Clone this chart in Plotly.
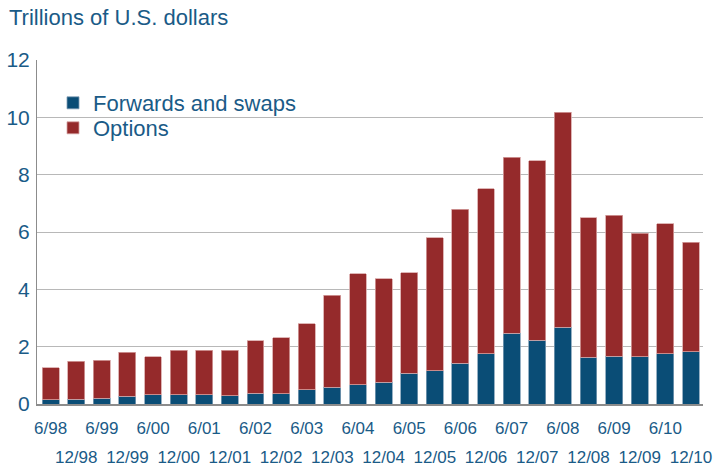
import plotly.graph_objects as go

periods = ["6/98", "12/98", "6/99", "12/99", "6/00", "12/00", "6/01", "12/01",
           "6/02", "12/02", "6/03", "12/03", "6/04", "12/04", "6/05", "12/05",
           "6/06", "12/06", "6/07", "12/07", "6/08", "12/08", "6/09", "12/09",
           "6/10", "12/10"]
forwards_swaps = [0.15, 0.16, 0.20, 0.27, 0.33, 0.33, 0.33, 0.29, 0.37, 0.36,
                  0.50, 0.59, 0.67, 0.76, 1.07, 1.16, 1.42, 1.76, 2.46, 2.23,
                  2.67, 1.63, 1.67, 1.64, 1.76, 1.83]
options = [1.12, 1.33, 1.32, 1.54, 1.31, 1.55, 1.55, 1.59, 1.84, 1.95,
           2.30, 3.21, 3.87, 3.61, 3.50, 4.64, 5.37, 5.75, 6.14, 6.25,
           7.51, 4.87, 4.92, 4.32, 4.52, 3.81]
y_ticks = [0, 2, 4, 6, 8, 10, 12]

FONT = "Arial, 'Liberation Sans', sans-serif"
TEXT = "#1a5b87"
BLUE = "#0a4d76"
RED = "#952a2b"

W, H = 713, 470
ML, MT, MR, MB = 37, 60, 10, 66
PH = H - MT - MB
PW = W - ML - MR

idx = list(range(len(periods)))

fig = go.Figure()
fig.add_trace(go.Bar(x=idx, y=forwards_swaps, name="Forwards and swaps",
                     marker=dict(color=BLUE, line=dict(color="#7d9db5", width=0.8)),
                     width=0.66, legend="legend"))
fig.add_trace(go.Bar(x=idx, y=options, name="Options",
                     marker=dict(color=RED, line=dict(color="#d6a3a3", width=0.8)),
                     width=0.66, legend="legend2"))
# carrier for the second row of period labels (draws nothing)
fig.add_trace(go.Scatter(x=idx, y=forwards_swaps, xaxis="x2", mode="none",
                         showlegend=False, hoverinfo="skip"))

xr = [-0.53, len(periods) - 0.53]
leg_x = (53 - ML) / PW
leg_common = dict(x=leg_x, xanchor="left", yanchor="top",
                  font=dict(size=22, color=TEXT, family=FONT),
                  bgcolor="rgba(0,0,0,0)")
fig.update_layout(
    width=W, height=H,
    barmode="stack",
    plot_bgcolor="white", paper_bgcolor="white",
    margin=dict(l=ML, r=MR, t=MT, b=MB, autoexpand=False),
    font=dict(family=FONT, color=TEXT),
    title=dict(text="Trillions of U.S. dollars", x=9 / W, xanchor="left",
               y=1 - 17 / H, yanchor="middle", xref="container", yref="container",
               pad=dict(t=0, b=0, l=0, r=0),
               font=dict(size=22, color=TEXT, family=FONT)),
    showlegend=True,
    legend=dict(y=1 - (82 - MT) / PH, **leg_common),
    legend2=dict(y=1 - (107 - MT) / PH, **leg_common),
    xaxis=dict(range=xr, tickmode="array", tickvals=idx[0::2], ticktext=periods[0::2],
               showgrid=False, zeroline=False, showline=True, linecolor="#8c8c8c",
               linewidth=1.5, ticks="", tickfont=dict(size=17, color=TEXT),
               ticklabelstandoff=8, automargin=False),
    xaxis2=dict(range=xr, overlaying="x", side="bottom", anchor="y", matches="x",
                tickmode="array", tickvals=idx[1::2], ticktext=periods[1::2],
                showgrid=False, zeroline=False, showline=False, ticks="",
                tickfont=dict(size=17, color=TEXT), ticklabelstandoff=41,
                automargin=False),
    yaxis=dict(range=[0, 12], tickmode="array", tickvals=y_ticks,
               showgrid=True, gridcolor="#b8b8b8", gridwidth=1, zeroline=False,
               showline=True, linecolor="#8c8c8c", linewidth=1, ticks="",
               tickfont=dict(size=21, color=TEXT), ticklabelstandoff=2,
               automargin=False),
)

fig.write_html("out.html",
               config={"displayModeBar": False},
               post_script="document.body.style.margin='0';"
                           "document.body.style.overflow='hidden';")
